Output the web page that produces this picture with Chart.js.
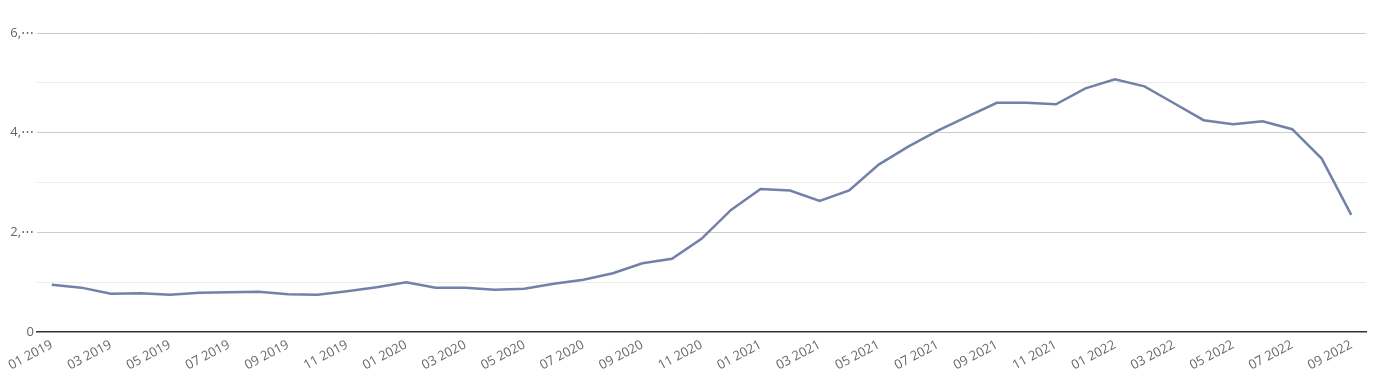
<!DOCTYPE html>
<html>
<head>
<meta charset="utf-8">
<script src="https://cdn.jsdelivr.net/npm/chart.js@4.4.0/dist/chart.umd.min.js"></script>
<style>
  html, body { margin: 0; padding: 0; background: #fff; }
  #wrap { width: 1374px; height: 387px; }
</style>
</head>
<body>
<div id="wrap"><canvas id="grafico" width="1374" height="387"></canvas></div>
<script>
const meses = [
  '01 2019','02 2019','03 2019','04 2019','05 2019','06 2019','07 2019','08 2019','09 2019','10 2019','11 2019','12 2019',
  '01 2020','02 2020','03 2020','04 2020','05 2020','06 2020','07 2020','08 2020','09 2020','10 2020','11 2020','12 2020',
  '01 2021','02 2021','03 2021','04 2021','05 2021','06 2021','07 2021','08 2021','09 2021','10 2021','11 2021','12 2021',
  '01 2022','02 2022','03 2022','04 2022','05 2022','06 2022','07 2022','08 2022','09 2022'
];
const valores = [
  0.95, 0.89, 0.77, 0.78, 0.75, 0.79, 0.80, 0.81, 0.76, 0.75, 0.82, 0.90,
  1.00, 0.89, 0.89, 0.85, 0.87, 0.97, 1.05, 1.18, 1.38, 1.47, 1.87, 2.45,
  2.87, 2.84, 2.63, 2.84, 3.36, 3.72, 4.04, 4.32, 4.60, 4.60, 4.57, 4.89,
  5.07, 4.93, 4.59, 4.25, 4.17, 4.23, 4.07, 3.48, 2.35
];
const yTicks = ['0', '', '2,\u22EF', '', '4,\u22EF', '', '6,\u22EF'];

new Chart('grafico', {
  type: 'line',
  data: {
    labels: meses,
    datasets: [{
      data: valores,
      borderColor: '#7281a8',
      borderWidth: 2.5,
      pointRadius: 0,
      tension: 0,
      fill: false
    }]
  },
  options: {
    responsive: false,
    animation: false,
    layout: { padding: { top: 33, right: 8, left: 0, bottom: 0 } },
    plugins: { legend: { display: false }, tooltip: { enabled: false } },
    scales: {
      x: {
        offset: true,
        grid: { display: false },
        border: { display: true, color: '#333', width: 1.5 },
        ticks: {
          autoSkip: false,
          maxRotation: 28,
          minRotation: 28,
          padding: -3,
          color: '#666',
          font: { family: 'Open Sans', size: 13 },
          callback: function (v, i) { return i % 2 === 0 ? meses[i] : ''; }
        },
        afterFit: function (scale) { scale.height = 55; }
      },
      y: {
        min: 0,
        max: 6,
        border: { display: false },
        grid: {
          drawTicks: false,
          color: function (ctx) {
            if (ctx.tick.value === 0) return 'rgba(0,0,0,0)';
            return ctx.tick.value % 2 === 0 ? '#cccccc' : '#ececec';
          }
        },
        ticks: {
          stepSize: 1,
          padding: 3,
          color: '#666',
          font: { family: 'Open Sans', size: 13 },
          callback: function (v) { return yTicks[v]; }
        },
        afterFit: function (scale) { scale.width = 37; }
      }
    }
  }
});
</script>
</body>
</html>
